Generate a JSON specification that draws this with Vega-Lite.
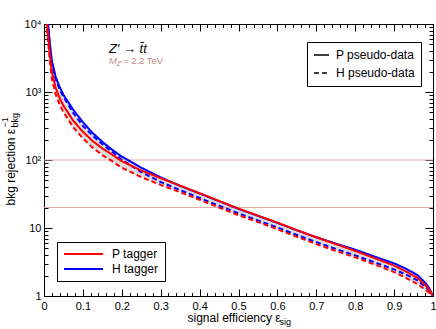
{
  "$schema": "https://vega.github.io/schema/vega-lite/v6.json",
  "width": 389,
  "height": 272,
  "autosize": {"type": "none"},
  "padding": {"left": 44, "top": 24, "right": 3, "bottom": 33},
  "background": "white",
  "config": {
    "view": {"stroke": null},
    "axis": {"domainColor": "black", "tickColor": "black", "labelColor": "black", "titleColor": "black", "labelFont": "Liberation Sans", "titleFont": "Liberation Sans", "titleFontWeight": "normal", "grid": false, "zindex": 1, "domainWidth": 1, "tickWidth": 1},
    "legend": {"labelFont": "Liberation Sans", "labelColor": "black"},
    "text": {"font": "Liberation Sans"}
  },
  "datasets": {
    "band": [
      {"e": 0.006, "lo": 11200, "hi": 20300}, {"e": 0.008, "lo": 8000, "hi": 14500}, {"e": 0.01, "lo": 6000, "hi": 10900},
      {"e": 0.015, "lo": 2880, "hi": 5200}, {"e": 0.02, "lo": 1600, "hi": 2900}, {"e": 0.03, "lo": 920, "hi": 1670},
      {"e": 0.04, "lo": 656, "hi": 1190}, {"e": 0.05, "lo": 504, "hi": 910}, {"e": 0.075, "lo": 304, "hi": 550},
      {"e": 0.1, "lo": 208, "hi": 360}, {"e": 0.125, "lo": 152, "hi": 250}, {"e": 0.15, "lo": 118, "hi": 185},
      {"e": 0.175, "lo": 96, "hi": 142}, {"e": 0.2, "lo": 77, "hi": 112}, {"e": 0.25, "lo": 56, "hi": 77},
      {"e": 0.3, "lo": 43, "hi": 55.6}, {"e": 0.35, "lo": 33.6, "hi": 42}, {"e": 0.4, "lo": 26, "hi": 32.5},
      {"e": 0.45, "lo": 20, "hi": 25}, {"e": 0.5, "lo": 15.4, "hi": 19.3}, {"e": 0.55, "lo": 12.2, "hi": 15.2},
      {"e": 0.6, "lo": 9.6, "hi": 12}, {"e": 0.65, "lo": 7.4, "hi": 9.3}, {"e": 0.7, "lo": 5.8, "hi": 7.3},
      {"e": 0.75, "lo": 4.6, "hi": 5.9}, {"e": 0.8, "lo": 3.7, "hi": 4.8}, {"e": 0.85, "lo": 2.9, "hi": 3.8},
      {"e": 0.9, "lo": 2.25, "hi": 3.02}, {"e": 0.93, "lo": 1.85, "hi": 2.53}, {"e": 0.96, "lo": 1.5, "hi": 2.03},
      {"e": 0.98, "lo": 1.23, "hi": 1.57}, {"e": 0.99, "lo": 1.12, "hi": 1.31}, {"e": 1, "lo": 1, "hi": 1}
    ],
    "curves": [
      {"e": 0.006, "v": 20300, "tagger": "H tagger", "pseudo": "P pseudo-data"},
      {"e": 0.008, "v": 14500, "tagger": "H tagger", "pseudo": "P pseudo-data"},
      {"e": 0.01, "v": 10900, "tagger": "H tagger", "pseudo": "P pseudo-data"},
      {"e": 0.015, "v": 5200, "tagger": "H tagger", "pseudo": "P pseudo-data"},
      {"e": 0.02, "v": 2900, "tagger": "H tagger", "pseudo": "P pseudo-data"},
      {"e": 0.03, "v": 1670, "tagger": "H tagger", "pseudo": "P pseudo-data"},
      {"e": 0.04, "v": 1190, "tagger": "H tagger", "pseudo": "P pseudo-data"},
      {"e": 0.05, "v": 910, "tagger": "H tagger", "pseudo": "P pseudo-data"},
      {"e": 0.075, "v": 550, "tagger": "H tagger", "pseudo": "P pseudo-data"},
      {"e": 0.1, "v": 360, "tagger": "H tagger", "pseudo": "P pseudo-data"},
      {"e": 0.125, "v": 250, "tagger": "H tagger", "pseudo": "P pseudo-data"},
      {"e": 0.15, "v": 185, "tagger": "H tagger", "pseudo": "P pseudo-data"},
      {"e": 0.175, "v": 142, "tagger": "H tagger", "pseudo": "P pseudo-data"},
      {"e": 0.2, "v": 112, "tagger": "H tagger", "pseudo": "P pseudo-data"},
      {"e": 0.25, "v": 77, "tagger": "H tagger", "pseudo": "P pseudo-data"},
      {"e": 0.3, "v": 55.6, "tagger": "H tagger", "pseudo": "P pseudo-data"},
      {"e": 0.35, "v": 41.6, "tagger": "H tagger", "pseudo": "P pseudo-data"},
      {"e": 0.4, "v": 32.2, "tagger": "H tagger", "pseudo": "P pseudo-data"},
      {"e": 0.45, "v": 24.8, "tagger": "H tagger", "pseudo": "P pseudo-data"},
      {"e": 0.5, "v": 19.1, "tagger": "H tagger", "pseudo": "P pseudo-data"},
      {"e": 0.55, "v": 15.1, "tagger": "H tagger", "pseudo": "P pseudo-data"},
      {"e": 0.6, "v": 11.9, "tagger": "H tagger", "pseudo": "P pseudo-data"},
      {"e": 0.65, "v": 9.25, "tagger": "H tagger", "pseudo": "P pseudo-data"},
      {"e": 0.7, "v": 7.3, "tagger": "H tagger", "pseudo": "P pseudo-data"},
      {"e": 0.75, "v": 5.9, "tagger": "H tagger", "pseudo": "P pseudo-data"},
      {"e": 0.8, "v": 4.8, "tagger": "H tagger", "pseudo": "P pseudo-data"},
      {"e": 0.85, "v": 3.8, "tagger": "H tagger", "pseudo": "P pseudo-data"},
      {"e": 0.9, "v": 3.02, "tagger": "H tagger", "pseudo": "P pseudo-data"},
      {"e": 0.93, "v": 2.53, "tagger": "H tagger", "pseudo": "P pseudo-data"},
      {"e": 0.96, "v": 2.03, "tagger": "H tagger", "pseudo": "P pseudo-data"},
      {"e": 0.98, "v": 1.57, "tagger": "H tagger", "pseudo": "P pseudo-data"},
      {"e": 0.99, "v": 1.31, "tagger": "H tagger", "pseudo": "P pseudo-data"},
      {"e": 1, "v": 1, "tagger": "H tagger", "pseudo": "P pseudo-data"},

      {"e": 0.006, "v": 18900, "tagger": "H tagger", "pseudo": "H pseudo-data"},
      {"e": 0.008, "v": 13500, "tagger": "H tagger", "pseudo": "H pseudo-data"},
      {"e": 0.01, "v": 10100, "tagger": "H tagger", "pseudo": "H pseudo-data"},
      {"e": 0.015, "v": 4860, "tagger": "H tagger", "pseudo": "H pseudo-data"},
      {"e": 0.02, "v": 2700, "tagger": "H tagger", "pseudo": "H pseudo-data"},
      {"e": 0.03, "v": 1550, "tagger": "H tagger", "pseudo": "H pseudo-data"},
      {"e": 0.04, "v": 1110, "tagger": "H tagger", "pseudo": "H pseudo-data"},
      {"e": 0.05, "v": 850, "tagger": "H tagger", "pseudo": "H pseudo-data"},
      {"e": 0.075, "v": 494, "tagger": "H tagger", "pseudo": "H pseudo-data"},
      {"e": 0.1, "v": 317, "tagger": "H tagger", "pseudo": "H pseudo-data"},
      {"e": 0.125, "v": 228, "tagger": "H tagger", "pseudo": "H pseudo-data"},
      {"e": 0.15, "v": 170, "tagger": "H tagger", "pseudo": "H pseudo-data"},
      {"e": 0.175, "v": 132, "tagger": "H tagger", "pseudo": "H pseudo-data"},
      {"e": 0.2, "v": 101, "tagger": "H tagger", "pseudo": "H pseudo-data"},
      {"e": 0.25, "v": 66.5, "tagger": "H tagger", "pseudo": "H pseudo-data"},
      {"e": 0.3, "v": 47.5, "tagger": "H tagger", "pseudo": "H pseudo-data"},
      {"e": 0.35, "v": 36.1, "tagger": "H tagger", "pseudo": "H pseudo-data"},
      {"e": 0.4, "v": 27.6, "tagger": "H tagger", "pseudo": "H pseudo-data"},
      {"e": 0.45, "v": 21.3, "tagger": "H tagger", "pseudo": "H pseudo-data"},
      {"e": 0.5, "v": 16.4, "tagger": "H tagger", "pseudo": "H pseudo-data"},
      {"e": 0.55, "v": 12.9, "tagger": "H tagger", "pseudo": "H pseudo-data"},
      {"e": 0.6, "v": 10.2, "tagger": "H tagger", "pseudo": "H pseudo-data"},
      {"e": 0.65, "v": 7.9, "tagger": "H tagger", "pseudo": "H pseudo-data"},
      {"e": 0.7, "v": 6.2, "tagger": "H tagger", "pseudo": "H pseudo-data"},
      {"e": 0.75, "v": 4.93, "tagger": "H tagger", "pseudo": "H pseudo-data"},
      {"e": 0.8, "v": 3.96, "tagger": "H tagger", "pseudo": "H pseudo-data"},
      {"e": 0.85, "v": 3.13, "tagger": "H tagger", "pseudo": "H pseudo-data"},
      {"e": 0.9, "v": 2.46, "tagger": "H tagger", "pseudo": "H pseudo-data"},
      {"e": 0.93, "v": 2.07, "tagger": "H tagger", "pseudo": "H pseudo-data"},
      {"e": 0.96, "v": 1.7, "tagger": "H tagger", "pseudo": "H pseudo-data"},
      {"e": 0.98, "v": 1.36, "tagger": "H tagger", "pseudo": "H pseudo-data"},
      {"e": 0.99, "v": 1.2, "tagger": "H tagger", "pseudo": "H pseudo-data"},
      {"e": 1, "v": 1, "tagger": "H tagger", "pseudo": "H pseudo-data"},

      {"e": 0.006, "v": 11200, "tagger": "P tagger", "pseudo": "H pseudo-data"},
      {"e": 0.008, "v": 8000, "tagger": "P tagger", "pseudo": "H pseudo-data"},
      {"e": 0.01, "v": 6000, "tagger": "P tagger", "pseudo": "H pseudo-data"},
      {"e": 0.015, "v": 2880, "tagger": "P tagger", "pseudo": "H pseudo-data"},
      {"e": 0.02, "v": 1600, "tagger": "P tagger", "pseudo": "H pseudo-data"},
      {"e": 0.03, "v": 920, "tagger": "P tagger", "pseudo": "H pseudo-data"},
      {"e": 0.04, "v": 656, "tagger": "P tagger", "pseudo": "H pseudo-data"},
      {"e": 0.05, "v": 504, "tagger": "P tagger", "pseudo": "H pseudo-data"},
      {"e": 0.075, "v": 304, "tagger": "P tagger", "pseudo": "H pseudo-data"},
      {"e": 0.1, "v": 208, "tagger": "P tagger", "pseudo": "H pseudo-data"},
      {"e": 0.125, "v": 152, "tagger": "P tagger", "pseudo": "H pseudo-data"},
      {"e": 0.15, "v": 118, "tagger": "P tagger", "pseudo": "H pseudo-data"},
      {"e": 0.175, "v": 96, "tagger": "P tagger", "pseudo": "H pseudo-data"},
      {"e": 0.2, "v": 77, "tagger": "P tagger", "pseudo": "H pseudo-data"},
      {"e": 0.25, "v": 56, "tagger": "P tagger", "pseudo": "H pseudo-data"},
      {"e": 0.3, "v": 43, "tagger": "P tagger", "pseudo": "H pseudo-data"},
      {"e": 0.35, "v": 33.6, "tagger": "P tagger", "pseudo": "H pseudo-data"},
      {"e": 0.4, "v": 26, "tagger": "P tagger", "pseudo": "H pseudo-data"},
      {"e": 0.45, "v": 20, "tagger": "P tagger", "pseudo": "H pseudo-data"},
      {"e": 0.5, "v": 15.4, "tagger": "P tagger", "pseudo": "H pseudo-data"},
      {"e": 0.55, "v": 12.2, "tagger": "P tagger", "pseudo": "H pseudo-data"},
      {"e": 0.6, "v": 9.6, "tagger": "P tagger", "pseudo": "H pseudo-data"},
      {"e": 0.65, "v": 7.4, "tagger": "P tagger", "pseudo": "H pseudo-data"},
      {"e": 0.7, "v": 5.8, "tagger": "P tagger", "pseudo": "H pseudo-data"},
      {"e": 0.75, "v": 4.6, "tagger": "P tagger", "pseudo": "H pseudo-data"},
      {"e": 0.8, "v": 3.7, "tagger": "P tagger", "pseudo": "H pseudo-data"},
      {"e": 0.85, "v": 2.9, "tagger": "P tagger", "pseudo": "H pseudo-data"},
      {"e": 0.9, "v": 2.25, "tagger": "P tagger", "pseudo": "H pseudo-data"},
      {"e": 0.93, "v": 1.85, "tagger": "P tagger", "pseudo": "H pseudo-data"},
      {"e": 0.96, "v": 1.5, "tagger": "P tagger", "pseudo": "H pseudo-data"},
      {"e": 0.98, "v": 1.23, "tagger": "P tagger", "pseudo": "H pseudo-data"},
      {"e": 0.99, "v": 1.12, "tagger": "P tagger", "pseudo": "H pseudo-data"},
      {"e": 1, "v": 1, "tagger": "P tagger", "pseudo": "H pseudo-data"},

      {"e": 0.006, "v": 14000, "tagger": "P tagger", "pseudo": "P pseudo-data"},
      {"e": 0.008, "v": 10000, "tagger": "P tagger", "pseudo": "P pseudo-data"},
      {"e": 0.01, "v": 7500, "tagger": "P tagger", "pseudo": "P pseudo-data"},
      {"e": 0.015, "v": 3600, "tagger": "P tagger", "pseudo": "P pseudo-data"},
      {"e": 0.02, "v": 2000, "tagger": "P tagger", "pseudo": "P pseudo-data"},
      {"e": 0.03, "v": 1150, "tagger": "P tagger", "pseudo": "P pseudo-data"},
      {"e": 0.04, "v": 820, "tagger": "P tagger", "pseudo": "P pseudo-data"},
      {"e": 0.05, "v": 630, "tagger": "P tagger", "pseudo": "P pseudo-data"},
      {"e": 0.075, "v": 380, "tagger": "P tagger", "pseudo": "P pseudo-data"},
      {"e": 0.1, "v": 260, "tagger": "P tagger", "pseudo": "P pseudo-data"},
      {"e": 0.125, "v": 190, "tagger": "P tagger", "pseudo": "P pseudo-data"},
      {"e": 0.15, "v": 148, "tagger": "P tagger", "pseudo": "P pseudo-data"},
      {"e": 0.175, "v": 120, "tagger": "P tagger", "pseudo": "P pseudo-data"},
      {"e": 0.2, "v": 96, "tagger": "P tagger", "pseudo": "P pseudo-data"},
      {"e": 0.25, "v": 70, "tagger": "P tagger", "pseudo": "P pseudo-data"},
      {"e": 0.3, "v": 54, "tagger": "P tagger", "pseudo": "P pseudo-data"},
      {"e": 0.35, "v": 42, "tagger": "P tagger", "pseudo": "P pseudo-data"},
      {"e": 0.4, "v": 32.5, "tagger": "P tagger", "pseudo": "P pseudo-data"},
      {"e": 0.45, "v": 25, "tagger": "P tagger", "pseudo": "P pseudo-data"},
      {"e": 0.5, "v": 19.3, "tagger": "P tagger", "pseudo": "P pseudo-data"},
      {"e": 0.55, "v": 15.2, "tagger": "P tagger", "pseudo": "P pseudo-data"},
      {"e": 0.6, "v": 12, "tagger": "P tagger", "pseudo": "P pseudo-data"},
      {"e": 0.65, "v": 9.3, "tagger": "P tagger", "pseudo": "P pseudo-data"},
      {"e": 0.7, "v": 7.3, "tagger": "P tagger", "pseudo": "P pseudo-data"},
      {"e": 0.75, "v": 5.8, "tagger": "P tagger", "pseudo": "P pseudo-data"},
      {"e": 0.8, "v": 4.6, "tagger": "P tagger", "pseudo": "P pseudo-data"},
      {"e": 0.85, "v": 3.6, "tagger": "P tagger", "pseudo": "P pseudo-data"},
      {"e": 0.9, "v": 2.8, "tagger": "P tagger", "pseudo": "P pseudo-data"},
      {"e": 0.93, "v": 2.3, "tagger": "P tagger", "pseudo": "P pseudo-data"},
      {"e": 0.96, "v": 1.85, "tagger": "P tagger", "pseudo": "P pseudo-data"},
      {"e": 0.98, "v": 1.45, "tagger": "P tagger", "pseudo": "P pseudo-data"},
      {"e": 0.99, "v": 1.25, "tagger": "P tagger", "pseudo": "P pseudo-data"},
      {"e": 1, "v": 1, "tagger": "P tagger", "pseudo": "P pseudo-data"}
    ]
  },
  "layer": [
    {
      "data": {"name": "band"},
      "mark": {"type": "area", "color": "#dcdcdc", "clip": true},
      "encoding": {
        "x": {"field": "e", "type": "quantitative", "scale": {"domain": [0, 1], "nice": false, "zero": false},
          "axis": {"orient": "bottom", "values": [0, 0.1, 0.2, 0.3, 0.4, 0.5, 0.6, 0.7, 0.8, 0.9, 1], "labelExpr": "datum.value == 0 ? '0' : datum.value == 1 ? '1' : format(datum.value, '.1f')", "ticks": false, "domain": true, "labelPadding": 4, "labelFontSize": 11, "labelFlush": false, "labelOverlap": false, "title": "signal efficiency ε", "titleX": 143, "titleY": 25, "titleAlign": "left", "titleBaseline": "alphabetic", "titleFontSize": 12}},
        "y": {"field": "lo", "type": "quantitative", "scale": {"type": "log", "domain": [1, 10000], "nice": false},
          "axis": {"orient": "left", "values": [1, 10, 100, 1000, 10000], "labelExpr": "datum.value == 1 ? '1' : datum.value == 10 ? '10' : datum.value == 100 ? '10²' : datum.value == 1000 ? '10³' : '10⁴'", "ticks": false, "domain": true, "labelPadding": 3, "labelFontSize": 11, "labelFlush": false, "labelOverlap": false, "title": "bkg rejection ε", "titleAngle": -90, "titleX": -30, "titleY": 181, "titleAlign": "left", "titleBaseline": "alphabetic", "titleFontSize": 12}},
        "y2": {"field": "hi"}
      }
    },
    {
      "data": {"values": [{"r": 100}, {"r": 20}]},
      "mark": {"type": "rule", "color": "#e3aaaa", "strokeWidth": 1},
      "encoding": {"y": {"field": "r", "type": "quantitative", "scale": {"type": "log", "domain": [1, 10000], "nice": false}, "axis": null}}
    },
    {
      "data": {"name": "curves"},
      "mark": {"type": "line", "strokeWidth": 2, "clip": true},
      "encoding": {
        "x": {"field": "e", "type": "quantitative", "scale": {"domain": [0, 1], "nice": false, "zero": false},
          "axis": {"orient": "top", "values": [0, 0.02, 0.04, 0.06, 0.08, 0.1, 0.12, 0.14, 0.16, 0.18, 0.2, 0.22, 0.24, 0.26, 0.28, 0.3, 0.32, 0.34, 0.36, 0.38, 0.4, 0.42, 0.44, 0.46, 0.48, 0.5, 0.52, 0.54, 0.56, 0.58, 0.6, 0.62, 0.64, 0.66, 0.68, 0.7, 0.72, 0.74, 0.76, 0.78, 0.8, 0.82, 0.84, 0.86, 0.88, 0.9, 0.92, 0.94, 0.96, 0.98, 1], "labels": false, "domain": true, "ticks": true, "tickSize": {"condition": {"test": "abs(datum.value * 10 - round(datum.value * 10)) < 0.001", "value": -7}, "value": -3.5}, "title": null}},
        "y": {"field": "v", "type": "quantitative", "scale": {"type": "log", "domain": [1, 10000], "nice": false},
          "axis": {"orient": "right", "values": [1, 2, 3, 4, 5, 6, 7, 8, 9, 10, 20, 30, 40, 50, 60, 70, 80, 90, 100, 200, 300, 400, 500, 600, 700, 800, 900, 1000, 2000, 3000, 4000, 5000, 6000, 7000, 8000, 9000, 10000], "labels": false, "domain": true, "ticks": true, "tickSize": {"condition": {"test": "datum.value == 1 || datum.value == 10 || datum.value == 100 || datum.value == 1000 || datum.value == 10000", "value": -8}, "value": -4}, "title": null}},
        "color": {"field": "tagger", "type": "nominal", "scale": {"domain": ["P tagger", "H tagger"], "range": ["#ff0000", "#0000ff"]},
          "legend": {"orient": "none", "legendX": 13, "legendY": 218, "title": null, "symbolType": "stroke", "symbolSize": 1521, "symbolStrokeWidth": 2, "labelFontSize": 12, "labelOffset": 8, "clipHeight": 12, "rowPadding": 3, "padding": 6, "strokeColor": "black", "fillColor": "white"}},
        "strokeDash": {"field": "pseudo", "type": "nominal", "scale": {"domain": ["P pseudo-data", "H pseudo-data"], "range": [[1, 0], [5, 3]]},
          "legend": {"orient": "none", "legendX": 263, "legendY": 18, "title": null, "symbolType": "stroke", "symbolSize": 225, "symbolStrokeWidth": 1.5, "symbolStrokeColor": "black", "labelFontSize": 12, "labelOffset": 6, "clipHeight": 14, "rowPadding": 4, "padding": 6, "strokeColor": "black", "fillColor": "white"}}
      }
    },
    {
      "data": {"values": [{"t": "Z′ → t̄t"}]},
      "mark": {"type": "text", "align": "left", "baseline": "alphabetic", "fontSize": 13, "fontStyle": "italic", "color": "black"},
      "encoding": {
        "x": {"datum": 0.167, "type": "quantitative", "scale": {"domain": [0, 1], "nice": false, "zero": false},
          "axis": {"orient": "bottom", "values": [0, 0.02, 0.04, 0.06, 0.08, 0.1, 0.12, 0.14, 0.16, 0.18, 0.2, 0.22, 0.24, 0.26, 0.28, 0.3, 0.32, 0.34, 0.36, 0.38, 0.4, 0.42, 0.44, 0.46, 0.48, 0.5, 0.52, 0.54, 0.56, 0.58, 0.6, 0.62, 0.64, 0.66, 0.68, 0.7, 0.72, 0.74, 0.76, 0.78, 0.8, 0.82, 0.84, 0.86, 0.88, 0.9, 0.92, 0.94, 0.96, 0.98, 1], "labels": false, "domain": false, "ticks": true, "tickSize": {"condition": {"test": "abs(datum.value * 10 - round(datum.value * 10)) < 0.001", "value": -7}, "value": -3.5}, "title": null}},
        "y": {"datum": 3750, "type": "quantitative", "scale": {"type": "log", "domain": [1, 10000], "nice": false},
          "axis": {"orient": "left", "values": [1, 2, 3, 4, 5, 6, 7, 8, 9, 10, 20, 30, 40, 50, 60, 70, 80, 90, 100, 200, 300, 400, 500, 600, 700, 800, 900, 1000, 2000, 3000, 4000, 5000, 6000, 7000, 8000, 9000, 10000], "labels": false, "domain": false, "ticks": true, "tickSize": {"condition": {"test": "datum.value == 1 || datum.value == 10 || datum.value == 100 || datum.value == 1000 || datum.value == 10000", "value": -8}, "value": -4}, "title": null}},
        "text": {"field": "t"}
      }
    },
    {
      "data": {"values": [{"t": "M"}]},
      "mark": {"type": "text", "align": "left", "baseline": "alphabetic", "fontSize": 9.5, "fontStyle": "italic", "color": "#bf8a8a"},
      "encoding": {
        "x": {"datum": 0.167, "type": "quantitative", "scale": {"domain": [0, 1], "nice": false, "zero": false},
          "axis": {"orient": "bottom", "labels": false, "domain": false, "ticks": false, "title": "sig", "titleX": 235, "titleY": 28, "titleAlign": "left", "titleBaseline": "alphabetic", "titleFontSize": 9}},
        "y": {"datum": 2570, "type": "quantitative", "scale": {"type": "log", "domain": [1, 10000], "nice": false},
          "axis": {"orient": "left", "labels": false, "domain": false, "ticks": false, "title": "bkg", "titleAngle": -90, "titleX": -27, "titleY": 103, "titleAlign": "left", "titleBaseline": "alphabetic", "titleFontSize": 9}},
        "text": {"field": "t"}
      }
    },
    {
      "data": {"values": [{"t": "Z′"}]},
      "mark": {"type": "text", "align": "left", "baseline": "alphabetic", "fontSize": 7, "fontStyle": "italic", "color": "#bf8a8a", "dx": 7.5, "dy": 2},
      "encoding": {
        "x": {"datum": 0.167, "type": "quantitative", "scale": {"domain": [0, 1], "nice": false, "zero": false}, "axis": null},
        "y": {"datum": 2570, "type": "quantitative", "scale": {"type": "log", "domain": [1, 10000], "nice": false},
          "axis": {"orient": "left", "labels": false, "domain": false, "ticks": false, "title": "−1", "titleAngle": -90, "titleX": -37, "titleY": 103, "titleAlign": "left", "titleBaseline": "alphabetic", "titleFontSize": 9}},
        "text": {"field": "t"}
      }
    },
    {
      "data": {"values": [{"t": "= 2.2 TeV"}]},
      "mark": {"type": "text", "align": "left", "baseline": "alphabetic", "fontSize": 9.5, "color": "#bf8a8a", "dx": 14},
      "encoding": {
        "x": {"datum": 0.167, "type": "quantitative", "scale": {"domain": [0, 1], "nice": false, "zero": false}, "axis": null},
        "y": {"datum": 2570, "type": "quantitative", "scale": {"type": "log", "domain": [1, 10000], "nice": false}, "axis": null},
        "text": {"field": "t"}
      }
    }
  ],
  "resolve": {"axis": {"x": "independent", "y": "independent"}}
}
